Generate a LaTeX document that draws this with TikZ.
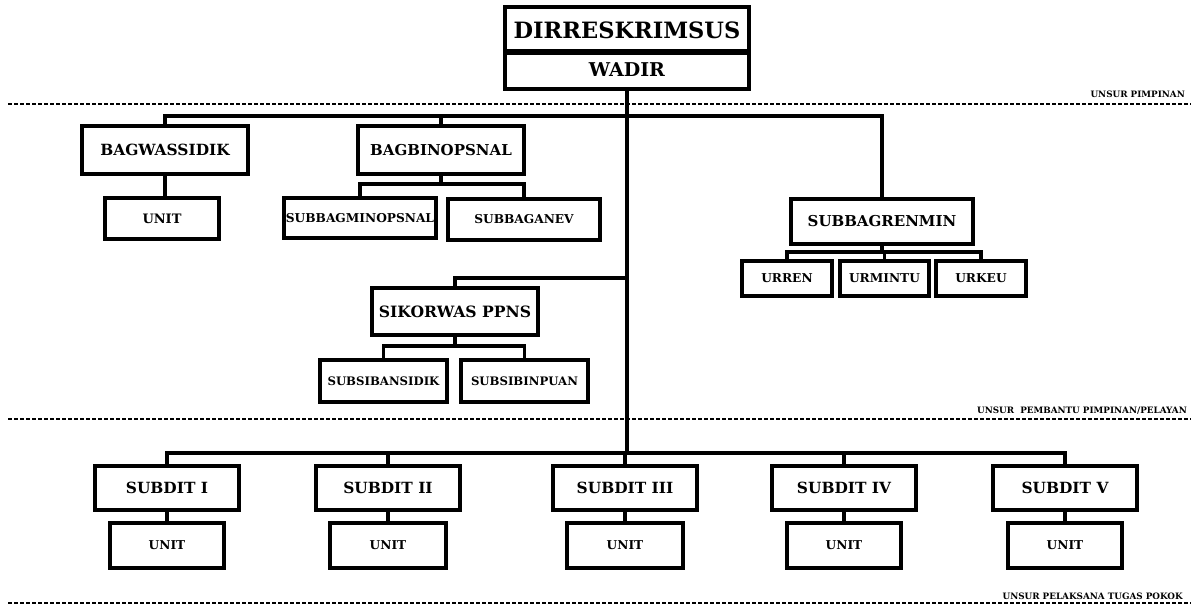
\documentclass[tikz,border=0pt]{standalone}
\usepackage{fontspec}
\setmainfont{DejaVu Serif}
\begin{document}
\begin{tikzpicture}[x=1pt,y=-1pt,
  box/.style={draw,line width=2.8pt,rectangle,inner sep=0pt,font=\bfseries\fontsize{15.4}{17}\selectfont,fill=white},
  sbox/.style={box,font=\bfseries\fontsize{12.2}{14}\selectfont},
  conn/.style={line width=3.2pt},
  sep/.style={line width=1.3pt,dash pattern=on 4pt off 2pt},
  lab/.style={font=\bfseries\fontsize{8.8}{10}\selectfont,anchor=base east,inner sep=0pt}]
\useasboundingbox (0,0) rectangle (1191,607);
% separators
\coordinate (d1l) at (8,104); \coordinate (d1r) at (1191,104);
\coordinate (d2l) at (8,419); \coordinate (d2r) at (1191,419);
\coordinate (d3l) at (8,603); \coordinate (d3r) at (1191,603);
\draw[sep] (d1l) -- (d1r);
\draw[sep] (d2l) -- (d2r);
\draw[sep] (d3l) -- (d3r);
\node[lab] (l1) at (1185,98) {UNSUR PIMPINAN};
\node[lab] (l2) at (1187,413) {UNSUR\ \ PEMBANTU PIMPINAN/PELAYAN};
\node[lab] (l3) at (1183,599) {UNSUR PELAKSANA TUGAS POKOK};
% bar levels
\coordinate (topbar) at (0,116);
\coordinate (subbar) at (0,184);
\coordinate (urbar) at (0,252);
\coordinate (sikbar) at (0,278);
\coordinate (sibar) at (0,346);
\coordinate (dbar) at (0,453);
% leaders
\node[box,minimum width=243pt,minimum height=44pt,font=\bfseries\fontsize{22.5}{24}\selectfont] (dir) at (627,30) {DIRRESKRIMSUS};
\node[box,minimum width=243pt,minimum height=36pt,font=\bfseries\fontsize{19}{21}\selectfont] (wadir) at (627,70) {WADIR};
% staff
\node[box,minimum width=164pt,minimum height=46pt] (bagw) at (165,150) {BAGWASSIDIK};
\node[sbox,minimum width=112pt,minimum height=39pt,font=\bfseries\fontsize{13}{15}\selectfont] (unitw) at (162,218.5) {UNIT};
\node[box,minimum width=164pt,minimum height=46pt,font=\bfseries\fontsize{15}{17}\selectfont] (bagb) at (441,150) {BAGBINOPSNAL};
\node[sbox,minimum width=150pt,minimum height=38pt] (sbm) at (360,218) {SUBBAGMINOPSNAL};
\node[sbox,minimum width=150pt,minimum height=39pt] (sba) at (524,219.5) {SUBBAGANEV};
\node[box,minimum width=180pt,minimum height=43pt,font=\bfseries\fontsize{15}{17}\selectfont] (sbr) at (882,221.5) {SUBBAGRENMIN};
\node[sbox,minimum width=88pt,minimum height=33pt] (urren) at (787,278.5) {URREN};
\node[sbox,minimum width=87pt,minimum height=33pt] (urmin) at (884.5,278.5) {URMINTU};
\node[sbox,minimum width=88pt,minimum height=33pt] (urkeu) at (981,278.5) {URKEU};
\node[box,minimum width=164pt,minimum height=45pt,font=\bfseries\fontsize{15.6}{17}\selectfont] (sik) at (455,311.5) {SIKORWAS PPNS};
\node[sbox,minimum width=125pt,minimum height=40pt,font=\bfseries\fontsize{11.7}{13}\selectfont] (ssb) at (383.5,381) {SUBSIBANSIDIK};
\node[sbox,minimum width=125pt,minimum height=40pt,font=\bfseries\fontsize{11.7}{13}\selectfont] (ssp) at (524.5,381) {SUBSIBINPUAN};
% subdit
\node[box,minimum width=142pt,minimum height=42pt] (s1) at (167,488) {SUBDIT I};
\node[box,minimum width=142pt,minimum height=42pt] (s2) at (388,488) {SUBDIT II};
\node[box,minimum width=143pt,minimum height=42pt] (s3) at (625,488) {SUBDIT III};
\node[box,minimum width=142pt,minimum height=42pt] (s4) at (844,488) {SUBDIT IV};
\node[box,minimum width=142pt,minimum height=42pt] (s5) at (1065,488) {SUBDIT V};
\node[sbox,minimum width=113pt,minimum height=43pt] (u1) at (167,545.5) {UNIT};
\node[sbox,minimum width=114pt,minimum height=43pt] (u2) at (388,545.5) {UNIT};
\node[sbox,minimum width=114pt,minimum height=43pt] (u3) at (625,545.5) {UNIT};
\node[sbox,minimum width=113pt,minimum height=43pt] (u4) at (844,545.5) {UNIT};
\node[sbox,minimum width=113pt,minimum height=43pt] (u5) at (1065,545.5) {UNIT};
% connectors
\draw[conn] (wadir.south) -- (wadir.south |- dbar);
\draw[conn] (bagw.north) |- (sbr.north |- topbar) -- (sbr.north);
\draw[conn] (bagb.north) -- (bagb.north |- topbar);
\draw[conn] (bagw.south) -- (bagw.south |- unitw.north);
\draw[conn] (bagb.south) -- (bagb.south |- subbar);
\draw[conn] (sbm.north) |- (sba.north |- subbar) -- (sba.north);
\draw[conn] (sbr.south) -- (sbr.south |- urbar);
\draw[conn] (urren.north) |- (urkeu.north |- urbar) -- (urkeu.north);
\draw[conn] (urmin.north) -- (urmin.north |- urbar);
\draw[conn] (sik.north) |- (wadir.south |- sikbar);
\draw[conn] (sik.south) -- (sik.south |- sibar);
\draw[conn] (ssb.north) |- (ssp.north |- sibar) -- (ssp.north);
\draw[conn] (s1.north) |- (s5.north |- dbar) -- (s5.north);
\draw[conn] (s2.north) -- (s2.north |- dbar);
\draw[conn] (s3.north) -- (s3.north |- dbar);
\draw[conn] (s4.north) -- (s4.north |- dbar);
\foreach \a/\b in {s1/u1,s2/u2,s3/u3,s4/u4,s5/u5}{\draw[conn] (\a.south) -- (\b.north);}
% box outlines over connector ends
\foreach \n in {dir,wadir,bagw,unitw,bagb,sbm,sba,sbr,urren,urmin,urkeu,sik,ssb,ssp,s1,s2,s3,s4,s5,u1,u2,u3,u4,u5}{\draw[line width=2.8pt] (\n.north west) rectangle (\n.south east);}
\end{tikzpicture}
\end{document}
